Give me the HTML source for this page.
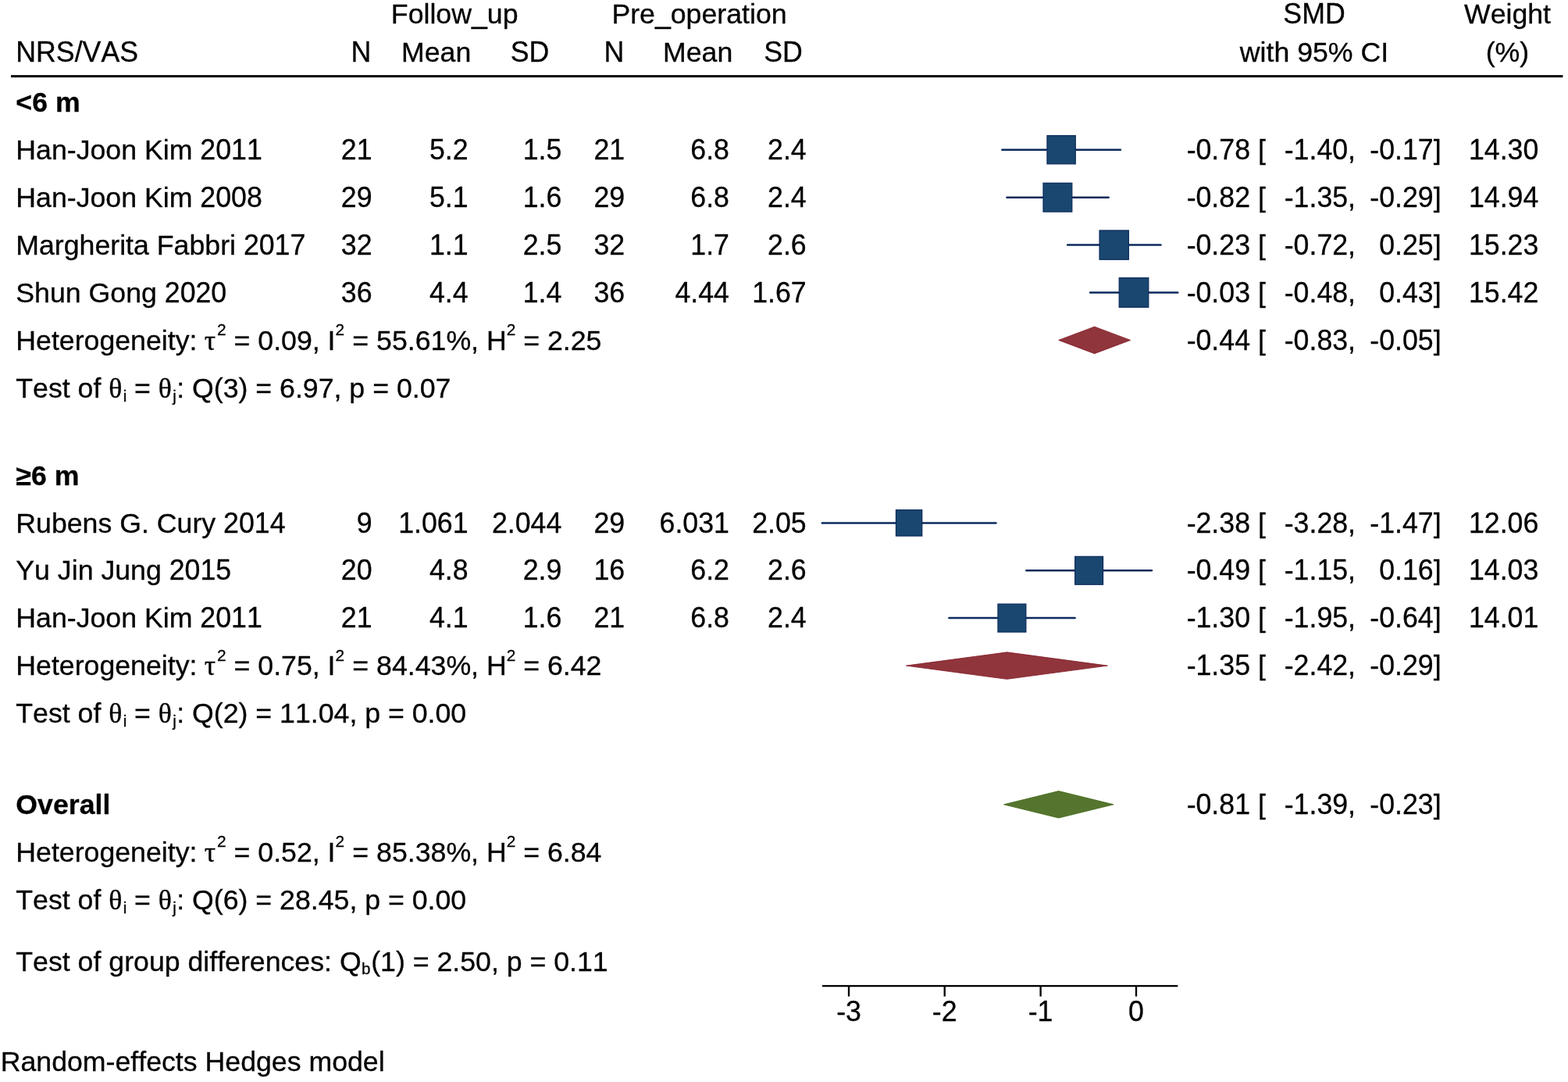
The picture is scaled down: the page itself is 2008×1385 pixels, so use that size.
<!DOCTYPE html>
<html lang="en">
<head>
<meta charset="utf-8">
<title>Forest plot: NRS/VAS</title>
<style>
html,body{margin:0;padding:0;background:#fff;}
body{width:2008px;height:1385px;}
svg{display:block;}
text{font-family:"Liberation Sans", sans-serif;font-size:35.7px;fill:#000;stroke:#000;stroke-width:0.3px;white-space:pre;font-kerning:none;font-variant-ligatures:none;}
</style>
</head>
<body>
<svg width="2008" height="1385" viewBox="0 0 2008 1385">
<rect width="2008" height="1385" fill="#fff"/>
<g>
<line x1="1283.35" y1="191.7" x2="1434.85" y2="191.7" stroke="#0b2a5b" stroke-width="2.5" stroke-linecap="round"/>
<rect x="1340.95" y="173.55" width="36.30" height="36.30" fill="#1a476f" stroke="#0b2a5b" stroke-width="1.2"/>
<line x1="1289.45" y1="252.7" x2="1419.65" y2="252.7" stroke="#0b2a5b" stroke-width="2.5" stroke-linecap="round"/>
<rect x="1336.00" y="234.30" width="36.80" height="36.80" fill="#1a476f" stroke="#0b2a5b" stroke-width="1.2"/>
<line x1="1367.15" y1="313.6" x2="1486.45" y2="313.6" stroke="#0b2a5b" stroke-width="2.5" stroke-linecap="round"/>
<rect x="1408.05" y="294.95" width="37.30" height="37.30" fill="#1a476f" stroke="#0b2a5b" stroke-width="1.2"/>
<line x1="1396.15" y1="374.5" x2="1508.25" y2="374.5" stroke="#0b2a5b" stroke-width="2.5" stroke-linecap="round"/>
<rect x="1433.20" y="355.70" width="37.60" height="37.60" fill="#1a476f" stroke="#0b2a5b" stroke-width="1.2"/>
<polygon points="1355.70,435.4 1401.6,418.15 1447.60,435.4 1401.6,452.65" fill="#90353b" stroke="#7f1626" stroke-width="0.8" stroke-linejoin="round"/>
<line x1="1052.75" y1="669.4" x2="1275.45" y2="669.4" stroke="#0b2a5b" stroke-width="2.5" stroke-linecap="round"/>
<rect x="1147.45" y="652.75" width="33.30" height="33.30" fill="#1a476f" stroke="#0b2a5b" stroke-width="1.2"/>
<line x1="1314.35" y1="730.3" x2="1474.95" y2="730.3" stroke="#0b2a5b" stroke-width="2.5" stroke-linecap="round"/>
<rect x="1376.65" y="712.35" width="35.90" height="35.90" fill="#1a476f" stroke="#0b2a5b" stroke-width="1.2"/>
<line x1="1215.35" y1="791.1" x2="1376.65" y2="791.1" stroke="#0b2a5b" stroke-width="2.5" stroke-linecap="round"/>
<rect x="1277.95" y="773.15" width="35.90" height="35.90" fill="#1a476f" stroke="#0b2a5b" stroke-width="1.2"/>
<polygon points="1160.30,852.1 1289.5,834.85 1418.40,852.1 1289.5,869.35" fill="#90353b" stroke="#7f1626" stroke-width="0.8" stroke-linejoin="round"/>
<polygon points="1285.50,1029.8 1355.7,1012.55 1426.00,1029.8 1355.7,1047.05" fill="#55752f" stroke="#3c6410" stroke-width="0.8" stroke-linejoin="round"/>
<rect x="14" y="96.1" width="1987.4" height="3.0" fill="#000"/>
<rect x="1053" y="1260.9" width="455.3" height="2.3" fill="#000"/>
<rect x="1085.85" y="1261.5" width="2.3" height="14.0" fill="#000"/>
<rect x="1208.55" y="1261.5" width="2.3" height="14.0" fill="#000"/>
<rect x="1331.45" y="1261.5" width="2.3" height="14.0" fill="#000"/>
<rect x="1453.85" y="1261.5" width="2.3" height="14.0" fill="#000"/>
</g>
<g>
<text x="582.2" y="29.9" text-anchor="middle">Follow_up</text>
<text x="895.5" y="29.9" text-anchor="middle">Pre_operation</text>
<text transform="translate(1683 29.9) scale(1 1.05)" text-anchor="middle">SMD</text>
<text x="1930.5" y="29.9" text-anchor="middle">Weight</text>
<text transform="translate(20.3 79.2) scale(1 1.05)">NRS/VAS</text>
<text transform="translate(462.5 79.2) scale(1 1.05)" text-anchor="middle">N</text>
<text x="558.7" y="79.2" text-anchor="middle">Mean</text>
<text transform="translate(678.6 79.2) scale(1 1.05)" text-anchor="middle">SD</text>
<text transform="translate(786.5 79.2) scale(1 1.05)" text-anchor="middle">N</text>
<text x="893.6" y="79.2" text-anchor="middle">Mean</text>
<text transform="translate(1003 79.2) scale(1 1.05)" text-anchor="middle">SD</text>
<text x="1683" y="79.2" text-anchor="middle">with 95% CI</text>
<text x="1930.5" y="79.2" text-anchor="middle">(%)</text>
<text x="20.3" y="143.27" font-weight="bold">&lt;6 m</text>
<text x="20.3" y="204.2">Han-Joon Kim </text>
<text transform="translate(256.33 204.2) scale(1 1.05)">2011</text>
<text transform="translate(476.5 204.2) scale(1 1.05)" text-anchor="end">21</text>
<text transform="translate(599.5 204.2) scale(1 1.05)" text-anchor="end">5.2</text>
<text transform="translate(719.3 204.2) scale(1 1.05)" text-anchor="end">1.5</text>
<text transform="translate(800.2 204.2) scale(1 1.05)" text-anchor="end">21</text>
<text transform="translate(933.9 204.2) scale(1 1.05)" text-anchor="end">6.8</text>
<text transform="translate(1032.7 204.2) scale(1 1.05)" text-anchor="end">2.4</text>
<text transform="translate(1601 204.2) scale(1 1.05)" text-anchor="end">-0.78</text>
<text x="1611" y="204.2">[</text>
<text transform="translate(1736 204.2) scale(1 1.05)" text-anchor="end">-1.40,</text>
<text transform="translate(1835.68 204.2) scale(1 1.05)" text-anchor="end">-0.17</text>
<text x="1835.68" y="204.2">]</text>
<text transform="translate(1970.3 204.2) scale(1 1.05)" text-anchor="end">14.30</text>
<text x="20.3" y="265.13">Han-Joon Kim </text>
<text transform="translate(256.33 265.13) scale(1 1.05)">2008</text>
<text transform="translate(476.5 265.13) scale(1 1.05)" text-anchor="end">29</text>
<text transform="translate(599.5 265.13) scale(1 1.05)" text-anchor="end">5.1</text>
<text transform="translate(719.3 265.13) scale(1 1.05)" text-anchor="end">1.6</text>
<text transform="translate(800.2 265.13) scale(1 1.05)" text-anchor="end">29</text>
<text transform="translate(933.9 265.13) scale(1 1.05)" text-anchor="end">6.8</text>
<text transform="translate(1032.7 265.13) scale(1 1.05)" text-anchor="end">2.4</text>
<text transform="translate(1601 265.13) scale(1 1.05)" text-anchor="end">-0.82</text>
<text x="1611" y="265.13">[</text>
<text transform="translate(1736 265.13) scale(1 1.05)" text-anchor="end">-1.35,</text>
<text transform="translate(1835.68 265.13) scale(1 1.05)" text-anchor="end">-0.29</text>
<text x="1835.68" y="265.13">]</text>
<text transform="translate(1970.3 265.13) scale(1 1.05)" text-anchor="end">14.94</text>
<text x="20.3" y="326.06">Margherita Fabbri </text>
<text transform="translate(311.88 326.06) scale(1 1.05)">2017</text>
<text transform="translate(476.5 326.06) scale(1 1.05)" text-anchor="end">32</text>
<text transform="translate(599.5 326.06) scale(1 1.05)" text-anchor="end">1.1</text>
<text transform="translate(719.3 326.06) scale(1 1.05)" text-anchor="end">2.5</text>
<text transform="translate(800.2 326.06) scale(1 1.05)" text-anchor="end">32</text>
<text transform="translate(933.9 326.06) scale(1 1.05)" text-anchor="end">1.7</text>
<text transform="translate(1032.7 326.06) scale(1 1.05)" text-anchor="end">2.6</text>
<text transform="translate(1601 326.06) scale(1 1.05)" text-anchor="end">-0.23</text>
<text x="1611" y="326.06">[</text>
<text transform="translate(1736 326.06) scale(1 1.05)" text-anchor="end">-0.72,</text>
<text transform="translate(1835.68 326.06) scale(1 1.05)" text-anchor="end">0.25</text>
<text x="1835.68" y="326.06">]</text>
<text transform="translate(1970.3 326.06) scale(1 1.05)" text-anchor="end">15.23</text>
<text x="20.3" y="386.99">Shun Gong </text>
<text transform="translate(210.78 386.99) scale(1 1.05)">2020</text>
<text transform="translate(476.5 386.99) scale(1 1.05)" text-anchor="end">36</text>
<text transform="translate(599.5 386.99) scale(1 1.05)" text-anchor="end">4.4</text>
<text transform="translate(719.3 386.99) scale(1 1.05)" text-anchor="end">1.4</text>
<text transform="translate(800.2 386.99) scale(1 1.05)" text-anchor="end">36</text>
<text transform="translate(933.9 386.99) scale(1 1.05)" text-anchor="end">4.44</text>
<text transform="translate(1032.7 386.99) scale(1 1.05)" text-anchor="end">1.67</text>
<text transform="translate(1601 386.99) scale(1 1.05)" text-anchor="end">-0.03</text>
<text x="1611" y="386.99">[</text>
<text transform="translate(1736 386.99) scale(1 1.05)" text-anchor="end">-0.48,</text>
<text transform="translate(1835.68 386.99) scale(1 1.05)" text-anchor="end">0.43</text>
<text x="1835.68" y="386.99">]</text>
<text transform="translate(1970.3 386.99) scale(1 1.05)" text-anchor="end">15.42</text>
<text x="20.3" y="447.92">Heterogeneity: <tspan font-family='"Liberation Serif", serif' dx="-0.6">τ</tspan><tspan font-size="20.8" dx="1.8" dy="-18.7">2</tspan><tspan dx="0.2" dy="18.7"> = 0.09, I</tspan><tspan font-size="20.8" dx="0" dy="-18.7">2</tspan><tspan dx="0.3" dy="18.7"> = 55.61%, H</tspan><tspan font-size="20.8" dx="0" dy="-18.7">2</tspan><tspan dy="18.7"> = 2.25</tspan></text>
<text transform="translate(1601 447.92) scale(1 1.05)" text-anchor="end">-0.44</text>
<text x="1611" y="447.92">[</text>
<text transform="translate(1736 447.92) scale(1 1.05)" text-anchor="end">-0.83,</text>
<text transform="translate(1835.68 447.92) scale(1 1.05)" text-anchor="end">-0.05</text>
<text x="1835.68" y="447.92">]</text>
<text x="20.3" y="508.85">Test of <tspan font-family='"Liberation Serif", serif'>θ</tspan><tspan font-size="20.5" dx="1.3" dy="4.7">i</tspan><tspan dx="-0.1" dy="-4.7"> = </tspan><tspan font-family='"Liberation Serif", serif'>θ</tspan><tspan font-size="20.5" dx="1.2" dy="4.7">j</tspan><tspan dx="0.5" dy="-4.7">: Q(3) = 6.97, p = 0.07</tspan></text>
<text x="20.3" y="620.6" font-weight="bold">≥6 m</text>
<text x="20.3" y="681.53">Rubens G. Cury </text>
<text transform="translate(286.08 681.53) scale(1 1.05)">2014</text>
<text transform="translate(476.5 681.53) scale(1 1.05)" text-anchor="end">9</text>
<text transform="translate(599.5 681.53) scale(1 1.05)" text-anchor="end">1.061</text>
<text transform="translate(719.3 681.53) scale(1 1.05)" text-anchor="end">2.044</text>
<text transform="translate(800.2 681.53) scale(1 1.05)" text-anchor="end">29</text>
<text transform="translate(933.9 681.53) scale(1 1.05)" text-anchor="end">6.031</text>
<text transform="translate(1032.7 681.53) scale(1 1.05)" text-anchor="end">2.05</text>
<text transform="translate(1601 681.53) scale(1 1.05)" text-anchor="end">-2.38</text>
<text x="1611" y="681.53">[</text>
<text transform="translate(1736 681.53) scale(1 1.05)" text-anchor="end">-3.28,</text>
<text transform="translate(1835.68 681.53) scale(1 1.05)" text-anchor="end">-1.47</text>
<text x="1835.68" y="681.53">]</text>
<text transform="translate(1970.3 681.53) scale(1 1.05)" text-anchor="end">12.06</text>
<text x="20.3" y="742.46">Yu Jin Jung </text>
<text transform="translate(216.71 742.46) scale(1 1.05)">2015</text>
<text transform="translate(476.5 742.46) scale(1 1.05)" text-anchor="end">20</text>
<text transform="translate(599.5 742.46) scale(1 1.05)" text-anchor="end">4.8</text>
<text transform="translate(719.3 742.46) scale(1 1.05)" text-anchor="end">2.9</text>
<text transform="translate(800.2 742.46) scale(1 1.05)" text-anchor="end">16</text>
<text transform="translate(933.9 742.46) scale(1 1.05)" text-anchor="end">6.2</text>
<text transform="translate(1032.7 742.46) scale(1 1.05)" text-anchor="end">2.6</text>
<text transform="translate(1601 742.46) scale(1 1.05)" text-anchor="end">-0.49</text>
<text x="1611" y="742.46">[</text>
<text transform="translate(1736 742.46) scale(1 1.05)" text-anchor="end">-1.15,</text>
<text transform="translate(1835.68 742.46) scale(1 1.05)" text-anchor="end">0.16</text>
<text x="1835.68" y="742.46">]</text>
<text transform="translate(1970.3 742.46) scale(1 1.05)" text-anchor="end">14.03</text>
<text x="20.3" y="803.39">Han-Joon Kim </text>
<text transform="translate(256.33 803.39) scale(1 1.05)">2011</text>
<text transform="translate(476.5 803.39) scale(1 1.05)" text-anchor="end">21</text>
<text transform="translate(599.5 803.39) scale(1 1.05)" text-anchor="end">4.1</text>
<text transform="translate(719.3 803.39) scale(1 1.05)" text-anchor="end">1.6</text>
<text transform="translate(800.2 803.39) scale(1 1.05)" text-anchor="end">21</text>
<text transform="translate(933.9 803.39) scale(1 1.05)" text-anchor="end">6.8</text>
<text transform="translate(1032.7 803.39) scale(1 1.05)" text-anchor="end">2.4</text>
<text transform="translate(1601 803.39) scale(1 1.05)" text-anchor="end">-1.30</text>
<text x="1611" y="803.39">[</text>
<text transform="translate(1736 803.39) scale(1 1.05)" text-anchor="end">-1.95,</text>
<text transform="translate(1835.68 803.39) scale(1 1.05)" text-anchor="end">-0.64</text>
<text x="1835.68" y="803.39">]</text>
<text transform="translate(1970.3 803.39) scale(1 1.05)" text-anchor="end">14.01</text>
<text x="20.3" y="864.32">Heterogeneity: <tspan font-family='"Liberation Serif", serif' dx="-0.6">τ</tspan><tspan font-size="20.8" dx="1.8" dy="-18.7">2</tspan><tspan dx="0.2" dy="18.7"> = 0.75, I</tspan><tspan font-size="20.8" dx="0" dy="-18.7">2</tspan><tspan dx="0.3" dy="18.7"> = 84.43%, H</tspan><tspan font-size="20.8" dx="0" dy="-18.7">2</tspan><tspan dy="18.7"> = 6.42</tspan></text>
<text transform="translate(1601 864.32) scale(1 1.05)" text-anchor="end">-1.35</text>
<text x="1611" y="864.32">[</text>
<text transform="translate(1736 864.32) scale(1 1.05)" text-anchor="end">-2.42,</text>
<text transform="translate(1835.68 864.32) scale(1 1.05)" text-anchor="end">-0.29</text>
<text x="1835.68" y="864.32">]</text>
<text x="20.3" y="925.25">Test of <tspan font-family='"Liberation Serif", serif'>θ</tspan><tspan font-size="20.5" dx="1.3" dy="4.7">i</tspan><tspan dx="-0.1" dy="-4.7"> = </tspan><tspan font-family='"Liberation Serif", serif'>θ</tspan><tspan font-size="20.5" dx="1.2" dy="4.7">j</tspan><tspan dx="0.5" dy="-4.7">: Q(2) = 11.04, p = 0.00</tspan></text>
<text x="20.3" y="1042.2" font-weight="bold">Overall</text>
<text transform="translate(1601 1042.2) scale(1 1.05)" text-anchor="end">-0.81</text>
<text x="1611" y="1042.2">[</text>
<text transform="translate(1736 1042.2) scale(1 1.05)" text-anchor="end">-1.39,</text>
<text transform="translate(1835.68 1042.2) scale(1 1.05)" text-anchor="end">-0.23</text>
<text x="1835.68" y="1042.2">]</text>
<text x="20.3" y="1103.13">Heterogeneity: <tspan font-family='"Liberation Serif", serif' dx="-0.6">τ</tspan><tspan font-size="20.8" dx="1.8" dy="-18.7">2</tspan><tspan dx="0.2" dy="18.7"> = 0.52, I</tspan><tspan font-size="20.8" dx="0" dy="-18.7">2</tspan><tspan dx="0.3" dy="18.7"> = 85.38%, H</tspan><tspan font-size="20.8" dx="0" dy="-18.7">2</tspan><tspan dy="18.7"> = 6.84</tspan></text>
<text x="20.3" y="1164.06">Test of <tspan font-family='"Liberation Serif", serif'>θ</tspan><tspan font-size="20.5" dx="1.3" dy="4.7">i</tspan><tspan dx="-0.1" dy="-4.7"> = </tspan><tspan font-family='"Liberation Serif", serif'>θ</tspan><tspan font-size="20.5" dx="1.2" dy="4.7">j</tspan><tspan dx="0.5" dy="-4.7">: Q(6) = 28.45, p = 0.00</tspan></text>
<text x="20.3" y="1242.7">Test of group differences: Q<tspan font-size="20.5" dx="0.3" dy="4.7">b</tspan><tspan dx="0.8" dy="-4.7">(1) = 2.50, p = 0.11</tspan></text>
<text x="0.7" y="1371">Random-effects Hedges model</text>
<text transform="translate(1087 1306.9) scale(1 1.05)" text-anchor="middle">-3</text>
<text transform="translate(1209.7 1306.9) scale(1 1.05)" text-anchor="middle">-2</text>
<text transform="translate(1332.6 1306.9) scale(1 1.05)" text-anchor="middle">-1</text>
<text transform="translate(1455 1306.9) scale(1 1.05)" text-anchor="middle">0</text>
</g>
</svg>
</body>
</html>
